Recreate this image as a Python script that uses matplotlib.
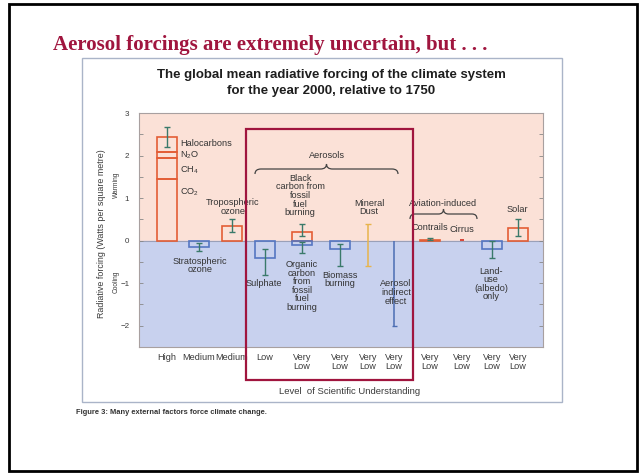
import numpy as np
import matplotlib
matplotlib.use("Agg")
import matplotlib.pyplot as plt
from matplotlib.patches import Rectangle, PathPatch
from matplotlib.path import Path
from matplotlib.ticker import MultipleLocator

plt.rcParams['font.family'] = ['Liberation Sans', 'DejaVu Sans']

# ---------------- data ----------------
ghg_components = ["CO2", "CH4", "N2O", "Halocarbons"]
ghg_values = [1.46, 0.48, 0.15, 0.34]
ghg_range = [2.19, 2.67]

# single-bar forcings: value, low, high
bar_names = ["Stratospheric ozone", "Tropospheric ozone", "Sulphate",
             "Black carbon (fossil fuel)", "Organic carbon (fossil fuel)",
             "Biomass burning", "Contrails", "Land-use (albedo)", "Solar"]
bar_values = [-0.15, 0.35, -0.40, 0.20, -0.10, -0.20, 0.02, -0.20, 0.30]
bar_low = [-0.25, 0.20, -0.80, 0.10, -0.30, -0.60, 0.005, -0.40, 0.10]
bar_high = [-0.05, 0.50, -0.20, 0.40, -0.03, -0.07, 0.07, 0.00, 0.50]
bar_slot = [1, 2, 3, 4, 4, 5, 8, 10, 11]

# range-only forcings
dust_range = [-0.60, 0.40]
indirect_range = [-2.0, 0.0]
cirrus_range = [0.0, 0.04]

lsu_labels = ["High", "Medium", "Medium", "Low", "Very\nLow", "Very\nLow",
              "Very\nLow", "Very\nLow", "Very\nLow", "Very\nLow", "Very\nLow", "Very\nLow"]

# ---------------- layout ----------------
W, H = 644, 475
slot_x = [0, 1.0, 2.04, 3.07, 4.23, 5.42, 6.3, 7.12, 8.24, 9.25, 10.19, 11.0]
bw = 0.63

fig = plt.figure(figsize=(W / 100, H / 100), dpi=100)
fig.patch.set_facecolor('white')

def F(x, y):
    return (x / W, 1 - y / H)

ax_l, ax_r, ax_t, ax_b = 139, 543, 113, 347
ax = fig.add_axes([ax_l / W, 1 - ax_b / H, (ax_r - ax_l) / W, (ax_b - ax_t) / H])
ax.set_xlim(-0.878, 11.787)
ax.set_ylim(-2.5, 3.0)
ax.axhspan(0, 3.0, color='#fbe1d7', zorder=0)
ax.axhspan(-2.5, 0, color='#c8d1ee', zorder=0)
ax.axhline(0, color='#9aa0b8', lw=0.8, zorder=1)

warm = '#e35d35'
cool = '#5576c2'
errc = '#3a7a6a'

# greenhouse stacked bar
bottoms = np.concatenate([[0], np.cumsum(ghg_values)[:-1]])
ax.bar([slot_x[0]] * len(ghg_values), ghg_values, bottom=bottoms, width=bw,
       fill=False, edgecolor=warm, lw=1.2, zorder=3)
tot = sum(ghg_values)
ax.errorbar(slot_x[0], tot, yerr=[[tot - ghg_range[0]], [ghg_range[1] - tot]],
            fmt='none', ecolor=errc, elinewidth=1, capsize=2.5, capthick=1, zorder=4)

for v, lo, hi, s in zip(bar_values, bar_low, bar_high, bar_slot):
    col = warm if v > 0 else cool
    ax.bar(slot_x[s], v, width=bw, fill=False, edgecolor=col, lw=1.2, zorder=3)
    ax.errorbar(slot_x[s], v, yerr=[[v - lo], [hi - v]], fmt='none', ecolor=errc,
                elinewidth=1, capsize=2.5, capthick=1, zorder=4)

# mineral dust range
ax.errorbar(slot_x[6], np.mean(dust_range), yerr=(dust_range[1] - dust_range[0]) / 2,
            fmt='none', ecolor='#e8b44c', elinewidth=1.1, capsize=2, capthick=1, zorder=4)
# aerosol indirect range
ax.vlines(slot_x[7], indirect_range[0], indirect_range[1], color='#4c6db3', lw=1.1, zorder=4)
ax.hlines(indirect_range[0], slot_x[7] - 0.08, slot_x[7] + 0.08, color='#4c6db3', lw=1, zorder=4)
# cirrus range
ax.bar(slot_x[9], cirrus_range[1] - cirrus_range[0], bottom=cirrus_range[0], width=0.15,
       color='#d9483c', zorder=4)

ax.set_xticks(slot_x)
ax.set_xticklabels(lsu_labels, fontsize=6.6, color='#3a3a3a', linespacing=1.05)
ax.tick_params(axis='x', length=0, pad=4)
ax.set_yticks([-2, -1, 0, 1, 2, 3])
ax.set_yticklabels(['\u22122', '\u22121', '0', '1', '2', '3'])
ax.yaxis.set_minor_locator(MultipleLocator(0.5))
ax.tick_params(axis='y', which='both', direction='in', right=True, length=3,
               width=0.6, color='#888888', labelsize=5.8, labelcolor='#3a3a3a', pad=7)
for sp in ax.spines.values():
    sp.set_color('#a8a0a0')
    sp.set_linewidth(0.8)

# ---------------- annotations ----------------
small = dict(fontsize=6.6, color='#333333', linespacing=0.95)

def T(x, y, s, ha='center', **kw):
    d = dict(small)
    d.update(kw)
    fig.text(*F(x, y), s, ha=ha, va='center', **d)

T(180, 144, "Halocarbons", ha='left')
T(180, 155, r"N$\mathregular{_2}$O", ha='left')
T(180, 170, r"CH$\mathregular{_4}$", ha='left')
T(180, 192, r"CO$\mathregular{_2}$", ha='left')
T(233, 207, "Tropospheric\nozone")
T(200, 265.5, "Stratospheric\nozone")
T(327, 155, "Aerosols")
T(300, 195.5, "Black\ncarbon from\nfossil\nfuel\nburning")
T(369, 207.5, "Mineral\nDust")
T(264, 284, "Sulphate")
T(302, 286, "Organic\ncarbon\nfrom\nfossil\nfuel\nburning")
T(340, 279.5, "Biomass\nburning")
T(396, 292.5, "Aerosol\nindirect\neffect")
T(443, 203, "Aviation-induced")
T(430, 228, "Contrails")
T(462, 229, "Cirrus")
T(517, 210, "Solar")
T(491, 284, "Land-\nuse\n(albedo)\nonly")

def brace(x0, x1, y_end, y_tip, q=6):
    xm = (x0 + x1) / 2
    ym = (y_end + y_tip) / 2
    pts = [(x0, y_end), (x0, ym), (x0 + q, ym), (xm - q, ym), (xm, ym), (xm, y_tip),
           (xm, ym), (xm + q, ym), (x1 - q, ym), (x1, ym), (x1, y_end)]
    codes = [Path.MOVETO, Path.CURVE3, Path.CURVE3, Path.LINETO, Path.CURVE3, Path.CURVE3,
             Path.CURVE3, Path.CURVE3, Path.LINETO, Path.CURVE3, Path.CURVE3]
    p = Path([F(*pt) for pt in pts], codes)
    fig.add_artist(PathPatch(p, fill=False, edgecolor='#444444', lw=0.9,
                             transform=fig.transFigure, zorder=5))

brace(255, 398, 174, 164)
brace(410, 477, 219, 209, q=5)

# axis labels
fig.text(*F(101, 234), "Radiative forcing (Watts per square metre)", rotation=90,
         ha='center', va='center', fontsize=6.4, color='#3a3a3a')
fig.text(*F(116, 185), "Warming", rotation=90, ha='center', va='center',
         fontsize=4.8, color='#3a3a3a')
fig.text(*F(116, 282), "Cooling", rotation=90, ha='center', va='center',
         fontsize=4.8, color='#3a3a3a')
fig.text(*F(350, 391), "Level  of Scientific Understanding", ha='center', va='center',
         fontsize=6.8, color='#3a3a3a')

# chart title
fig.text(*F(331, 75), "The global mean radiative forcing of the climate system",
         ha='center', va='center', fontsize=9.5, fontweight='bold', color='#1e1e1e')
fig.text(*F(331, 91), "for the year 2000, relative to 1750",
         ha='center', va='center', fontsize=9.5, fontweight='bold', color='#1e1e1e')

# caption
fig.text(*F(76, 412), "Figure 3: Many external factors force climate change.",
         ha='left', va='center', fontsize=5.4, fontweight='bold', color='#333333')

# slide title
fig.text(*F(53, 45), "Aerosol forcings are extremely uncertain, but . . .",
         ha='left', va='center', fontsize=15, fontweight='bold', color='#a0153e',
         family=['Liberation Serif', 'DejaVu Serif'])

# frames
def rect(x0, y0, x1, y1, **kw):
    fx0, fy1 = F(x0, y0)
    fx1, fy0 = F(x1, y1)
    fig.add_artist(Rectangle((fx0, fy0), fx1 - fx0, fy1 - fy0, fill=False,
                             transform=fig.transFigure, **kw))

rect(82, 58, 562, 402, edgecolor='#aab4c8', lw=1.0, zorder=1)
rect(246, 129, 413, 380, edgecolor='#a0153e', lw=1.6, zorder=10)
rect(9, 4, 637, 471, edgecolor='black', lw=2.0, zorder=10)

fig.savefig("out.png", dpi=100)
